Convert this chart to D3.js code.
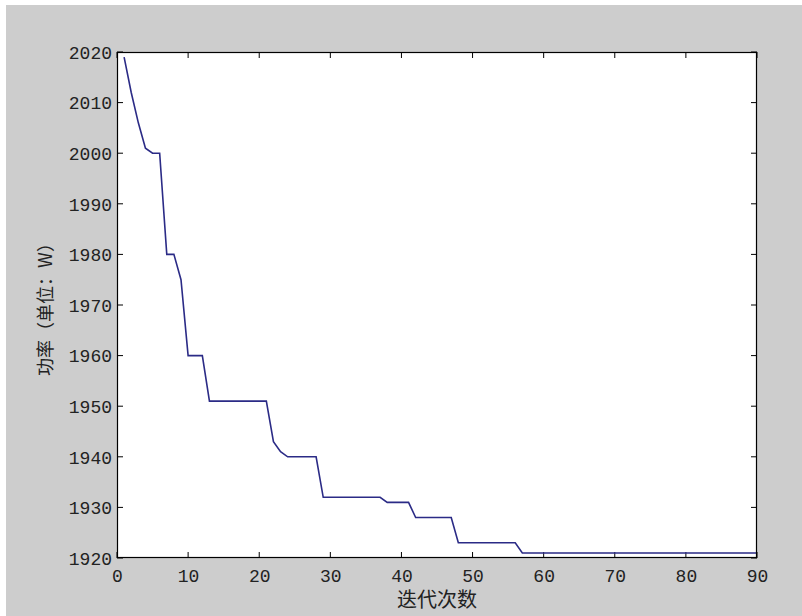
<!DOCTYPE html>
<html>
<head>
<meta charset="utf-8">
<script src="https://cdn.jsdelivr.net/npm/d3@7"></script>
<style>
  html, body { margin: 0; padding: 0; background: #fff; }
  svg { display: block; }
</style>
</head>
<body>
<div class="graph"></div>
<script>
// iterations 1..90
let iterations = d3.range(1, 91)
let power = [
    2019, 2012, 2006, 2001, 2000, 2000, 1980, 1980, 1975, 1960,
    1960, 1960, 1951, 1951, 1951, 1951, 1951, 1951, 1951, 1951,
    1951, 1943, 1941, 1940, 1940, 1940, 1940, 1940, 1932, 1932,
    1932, 1932, 1932, 1932, 1932, 1932, 1932, 1931, 1931, 1931,
    1931, 1928, 1928, 1928, 1928, 1928, 1928, 1923, 1923, 1923,
    1923, 1923, 1923, 1923, 1923, 1923, 1921, 1921, 1921, 1921,
    1921, 1921, 1921, 1921, 1921, 1921, 1921, 1921, 1921, 1921,
    1921, 1921, 1921, 1921, 1921, 1921, 1921, 1921, 1921, 1921,
    1921, 1921, 1921, 1921, 1921, 1921, 1921, 1921, 1921, 1921
]
let xTicks = [0, 10, 20, 30, 40, 50, 60, 70, 80, 90]
let yTicks = [1920, 1930, 1940, 1950, 1960, 1970, 1980, 1990, 2000, 2010, 2020]
let xTitle = '迭代次数'
let yTitle = '功率（单位：W）'

function run() {
    var w = 802, h = 616
    var left = 117, right = 757, top = 52, bottom = 558
    var svg = d3.select('.graph')
        .append('svg')
        .attr('width', w)
        .attr('height', h)

    // gray figure background (white strip top/left like the screenshot)
    svg.append('rect')
        .attr('x', 6).attr('y', 5)
        .attr('width', w - 6).attr('height', h - 5)
        .attr('fill', '#cdcdcd')

    var x = d3.scaleLinear().domain([0, 90]).range([left, right])
    var y = d3.scaleLinear().domain([1920, 2020]).range([bottom, top])

    svg.append('rect')
        .attr('x', left).attr('y', top)
        .attr('width', right - left).attr('height', bottom - top)
        .attr('fill', '#fff')

    var tickLen = 6
    // labels from d3 axes, tick marks drawn inward on all four sides
    var bottomAxis = d3.axisBottom(x).tickValues(xTicks).tickFormat(d3.format('d')).tickSize(0).tickPadding(10)
    var leftAxis = d3.axisLeft(y).tickValues(yTicks).tickFormat(d3.format('d')).tickSize(0).tickPadding(5)

    var gx = svg.append('g').attr('transform', 'translate(0,' + bottom + ')').call(bottomAxis)
    var gy = svg.append('g').attr('transform', 'translate(' + left + ',0)').call(leftAxis)
    ;[gx, gy].forEach(function(g) {
        g.select('.domain').remove()
        g.selectAll('text')
            .attr('font-family', '"Liberation Mono", monospace')
            .attr('font-size', '18px')
            .attr('fill', '#222')
    })
    gx.selectAll('text').attr('dy', '0.75em')
    gy.selectAll('text').attr('dy', '0.35em')

    var ticks = svg.append('g').attr('stroke', '#000').attr('stroke-width', 1)
    xTicks.forEach(function(t) {
        ticks.append('line').attr('x1', x(t)).attr('x2', x(t)).attr('y1', bottom).attr('y2', bottom - tickLen)
        ticks.append('line').attr('x1', x(t)).attr('x2', x(t)).attr('y1', top).attr('y2', top + tickLen)
    })
    yTicks.forEach(function(t) {
        ticks.append('line').attr('y1', y(t)).attr('y2', y(t)).attr('x1', left).attr('x2', left + tickLen)
        ticks.append('line').attr('y1', y(t)).attr('y2', y(t)).attr('x1', right).attr('x2', right - tickLen)
    })

    var line = d3.line()
        .x(function(d, i) { return x(iterations[i]) })
        .y(function(d) { return y(d) })
    svg.append('path')
        .datum(power)
        .attr('d', line)
        .attr('fill', 'none')
        .attr('stroke', '#2b2b86')
        .attr('stroke-width', 1.6)

    // box
    svg.append('rect')
        .attr('x', left + 0.5).attr('y', top + 0.5)
        .attr('width', right - left - 1).attr('height', bottom - top - 1)
        .attr('fill', 'none')
        .attr('stroke', '#000')
        .attr('stroke-width', 1.2)

    // axis titles
    svg.append('text')
        .text(xTitle)
        .attr('x', (left + right) / 2)
        .attr('y', 607)
        .attr('text-anchor', 'middle')
        .attr('font-family', '"Noto Sans CJK SC", sans-serif')
        .attr('font-size', '20px')
        .attr('fill', '#222')
    svg.append('text')
        .text(yTitle)
        .attr('transform', 'translate(52,' + ((top + bottom) / 2) + ') rotate(-90)')
        .attr('text-anchor', 'middle')
        .attr('font-family', '"Noto Sans CJK SC", sans-serif')
        .attr('font-size', '18px')
        .attr('fill', '#222')
}
window.addEventListener('load', run)
</script>
</body>
</html>
